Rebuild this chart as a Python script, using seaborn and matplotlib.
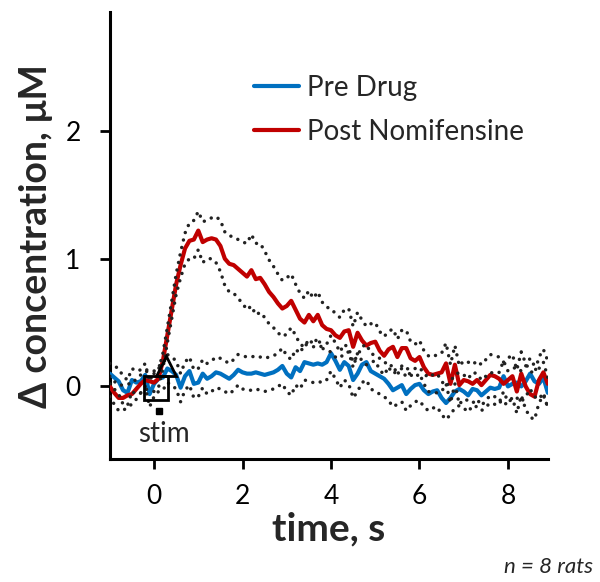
import numpy as np
import pandas as pd
import matplotlib
matplotlib.use("Agg")
import matplotlib.pyplot as plt
import seaborn as sns

# time axis, 0.1 s steps
time_s = np.round(np.arange(-1.0, 9.0, 0.1), 1)

# Pre Drug mean trace (uM)
pre_mean = [0.10, 0.07, 0.04, -0.03, -0.05, 0.05, 0.03, 0.04, 0.09, -0.06,
            0.02, 0.06, 0.07, 0.14, 0.12, 0.09, -0.01, 0.08, 0.12, 0.02,
            0.03, 0.10, 0.06, 0.08, 0.11, 0.10, 0.08, 0.06, 0.09, 0.13,
            0.11, 0.10, 0.10, 0.11, 0.10, 0.09, 0.10, 0.11, 0.13, 0.16,
            0.10, 0.07, 0.15, 0.12, 0.19, 0.18, 0.17, 0.18, 0.17, 0.19,
            0.26, 0.20, 0.13, 0.19, 0.16, 0.05, 0.10, 0.17, 0.19, 0.12,
            0.10, 0.08, 0.06, 0.02, -0.03, -0.01, 0.01, -0.06, -0.02, 0.01,
            0.02, -0.03, -0.06, -0.04, -0.03, -0.09, -0.13, -0.09, -0.04, -0.02,
            -0.04, -0.07, -0.02, -0.03, -0.07, -0.04, -0.01, -0.02, -0.01, 0.08,
            0.00, 0.02, 0.03, 0.00, 0.04, 0.10, 0.04, 0.02, 0.07, -0.05]
pre_sem = [0.08, 0.09, 0.10, 0.11, 0.10, 0.09, 0.09, 0.09, 0.09, 0.10,
           0.10, 0.10, 0.10, 0.11, 0.11, 0.11, 0.11, 0.11, 0.11, 0.11,
           0.11, 0.11, 0.12, 0.12, 0.12, 0.12, 0.12, 0.12, 0.12, 0.12,
           0.13, 0.13, 0.13, 0.13, 0.13, 0.13, 0.13, 0.13, 0.13, 0.14,
           0.14, 0.14, 0.14, 0.14, 0.14, 0.14, 0.14, 0.14, 0.14, 0.14,
           0.14, 0.14, 0.14, 0.14, 0.14, 0.14, 0.14, 0.14, 0.14, 0.14,
           0.14, 0.14, 0.14, 0.13, 0.13, 0.13, 0.13, 0.13, 0.13, 0.13,
           0.13, 0.13, 0.13, 0.13, 0.13, 0.13, 0.13, 0.13, 0.13, 0.13,
           0.13, 0.13, 0.13, 0.13, 0.12, 0.12, 0.12, 0.12, 0.12, 0.12,
           0.12, 0.12, 0.12, 0.12, 0.12, 0.12, 0.12, 0.12, 0.12, 0.12]

# Post Nomifensine mean trace (uM)
post_mean = [0.00, -0.05, -0.09, -0.09, -0.07, -0.06, -0.02, 0.02, 0.05, 0.04,
             0.03, 0.06, 0.20, 0.40, 0.60, 0.80, 0.95, 1.08, 1.14, 1.15,
             1.22, 1.13, 1.15, 1.16, 1.15, 1.10, 1.00, 0.96, 0.95, 0.92,
             0.89, 0.86, 0.91, 0.84, 0.85, 0.80, 0.74, 0.70, 0.65, 0.61,
             0.63, 0.67, 0.60, 0.53, 0.50, 0.56, 0.51, 0.56, 0.48, 0.45,
             0.44, 0.40, 0.38, 0.43, 0.44, 0.31, 0.42, 0.36, 0.32, 0.34,
             0.35, 0.28, 0.24, 0.29, 0.31, 0.23, 0.30, 0.30, 0.22, 0.20,
             0.23, 0.15, 0.10, 0.09, 0.10, 0.11, 0.18, 0.02, 0.17, 0.01,
             0.05, 0.04, 0.02, 0.05, 0.01, 0.05, 0.09, 0.08, 0.06, 0.02,
             0.05, 0.08, -0.04, 0.10, 0.00, -0.06, -0.08, 0.05, 0.11, 0.02]
post_sem = [0.08, 0.09, 0.10, 0.10, 0.09, 0.08, 0.08, 0.07, 0.07, 0.07,
            0.07, 0.07, 0.06, 0.06, 0.07, 0.08, 0.10, 0.12, 0.14, 0.15,
            0.15, 0.16, 0.15, 0.16, 0.18, 0.20, 0.21, 0.22, 0.22, 0.23,
            0.24, 0.26, 0.28, 0.28, 0.27, 0.26, 0.25, 0.24, 0.23, 0.22,
            0.22, 0.21, 0.20, 0.20, 0.19, 0.19, 0.18, 0.18, 0.18, 0.17,
            0.17, 0.17, 0.16, 0.17, 0.17, 0.16, 0.16, 0.16, 0.15, 0.15,
            0.15, 0.15, 0.15, 0.14, 0.14, 0.14, 0.14, 0.14, 0.13, 0.13,
            0.13, 0.13, 0.14, 0.14, 0.15, 0.15, 0.16, 0.15, 0.15, 0.15,
            0.15, 0.15, 0.15, 0.15, 0.16, 0.16, 0.16, 0.16, 0.17, 0.17,
            0.17, 0.17, 0.17, 0.17, 0.18, 0.18, 0.18, 0.18, 0.18, 0.18]

conditions = ["Pre Drug", "Post Nomifensine"]
colors = {"Pre Drug": "#0070C0", "Post Nomifensine": "#C00000"}

# stimulus marker positions (s, uM)
stim_box = (0.05, -0.01)
stim_tri = (0.27, 0.16)
stim_dot = (0.11, -0.19)
stim_label = (0.23, -0.37)

rows = []
for cond, m, s in [("Pre Drug", pre_mean, pre_sem), ("Post Nomifensine", post_mean, post_sem)]:
    for t, mv, sv in zip(time_s, m, s):
        rows.append({"time": t, "cond": cond, "mean": mv, "upper": mv + sv, "lower": mv - sv})
df = pd.DataFrame(rows)

sns.set_style("ticks")
plt.rcParams["font.family"] = ["Lato", "DejaVu Sans"]

fig = plt.figure(figsize=(6, 5.82), dpi=100)
ax = fig.add_axes([0.183, 0.211, 0.73, 0.768])

sns.lineplot(data=df, x="time", y="mean", hue="cond", hue_order=conditions,
             palette=colors, lw=3, ax=ax, zorder=3)
for cond in conditions:
    sub = df[df["cond"] == cond]
    for col in ["upper", "lower"]:
        ax.plot(sub["time"], sub[col], color="#222222", lw=2.5,
                linestyle=(0, (0.01, 2.2)), dash_capstyle="round", zorder=4)

# stim marker
ax.plot(*stim_box, marker="s", ms=17, mfc="none", mec="black", mew=2.0, zorder=5)
ax.plot(*stim_tri, marker="^", ms=15, mfc="none", mec="black", mew=2.0, zorder=5)
ax.plot(*stim_dot, marker="s", ms=4.5, color="black", zorder=5)
ax.text(*stim_label, "stim", fontsize=20, ha="center", va="center")

ax.set_xlim(-1, 8.9)
ax.set_ylim(-0.57, 2.93)
ax.set_xticks([0, 2, 4, 6, 8])
ax.set_yticks([0, 1, 2])
ax.tick_params(axis="both", labelsize=19, length=7, width=2, colors="black")
ax.tick_params(axis="x", pad=11)
ax.tick_params(axis="y", pad=14)
for side in ["left", "bottom"]:
    ax.spines[side].set_linewidth(2.2)
    ax.spines[side].set_color("black")
sns.despine(ax=ax)

ax.set_xlabel("time, s", fontsize=28, fontweight="bold", labelpad=2)
ax.set_ylabel("Δ concentration, μM", fontsize=27, fontweight="bold", labelpad=9)

leg = ax.legend(loc="upper left", bbox_to_anchor=(0.33, 0.86), frameon=False,
                fontsize=20, handlelength=1.6, handletextpad=0.3, labelspacing=0.65,
                borderpad=0, borderaxespad=0)
for line in leg.get_lines():
    line.set_linewidth(3)

fig.text(0.988, 0.026, "n = 8 rats", fontsize=16, style="italic", ha="right", va="center")

fig.savefig("out.png", dpi=100)
